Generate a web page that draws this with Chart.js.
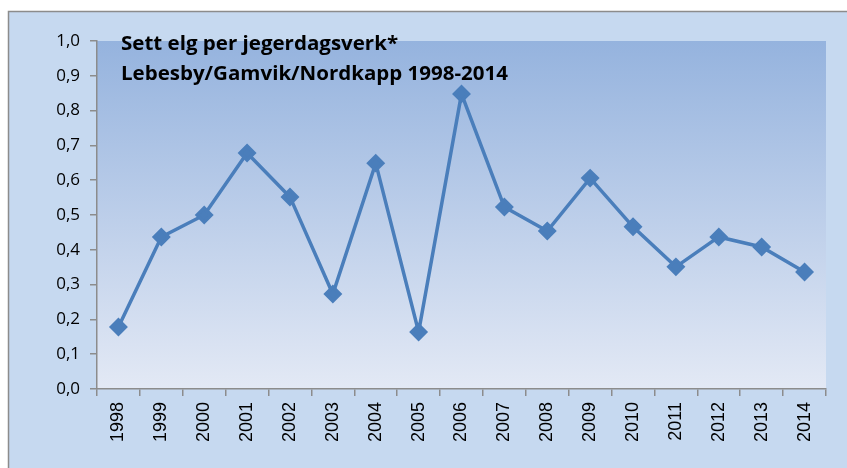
<!DOCTYPE html>
<html>
<head>
<meta charset="utf-8">
<script src="https://cdn.jsdelivr.net/npm/chart.js@4/dist/chart.umd.min.js"></script>
<style>
html,body{margin:0;padding:0;background:#fff;}
#wrap{width:847px;height:468px;position:relative;}
</style>
</head>
<body>
<div id="wrap"><canvas id="c"></canvas></div>
<script>
const years = ['1998','1999','2000','2001','2002','2003','2004','2005','2006','2007','2008','2009','2010','2011','2012','2013','2014'];
const settElg = [0.178,0.437,0.500,0.678,0.552,0.273,0.649,0.164,0.848,0.523,0.454,0.606,0.466,0.351,0.437,0.408,0.336];
const yTicks = [0,0.1,0.2,0.3,0.4,0.5,0.6,0.7,0.8,0.9,1.0];
const titleLines = ['Sett elg per jegerdagsverk*','Lebesby/Gamvik/Nordkapp 1998-2014'];

const bgPlugin = {
  id:'bg',
  beforeDraw(chart){
    const ctx = chart.ctx, w = chart.width, h = chart.height;
    ctx.save();
    ctx.fillStyle = '#ffffff';
    ctx.fillRect(0,0,w,h);
    ctx.fillStyle = '#c6d9f0';
    ctx.fillRect(8,11,w-8,h-11);
    ctx.strokeStyle = '#8c8c8c';
    ctx.lineWidth = 1.5;
    ctx.beginPath();
    ctx.moveTo(8.5,h);ctx.lineTo(8.5,11.5);ctx.lineTo(w,11.5);
    ctx.stroke();
    const a = chart.chartArea;
    const g = ctx.createLinearGradient(0,a.top,0,a.bottom);
    g.addColorStop(0,'#95b3de');
    g.addColorStop(1,'#e3e9f5');
    ctx.fillStyle = g;
    ctx.fillRect(a.left,a.top,a.right-a.left,a.bottom-a.top);
    ctx.restore();
  }
};
const titlePlugin = {
  id:'ttl',
  afterDatasetsDraw(chart){
    const ctx = chart.ctx;
    ctx.save();
    ctx.font = 'bold 19px "Open Sans", "Liberation Sans", sans-serif';
    ctx.fillStyle = '#000';
    ctx.textBaseline = 'alphabetic';
    const w2 = ctx.measureText(titleLines[1]).width;
    const sx = 387 / w2;
    ctx.translate(121,0);
    ctx.scale(sx,1);
    ctx.fillText(titleLines[0],0,50);
    ctx.fillText(titleLines[1],0,80);
    ctx.restore();
  }
};

new Chart(document.getElementById('c'),{
  type:'line',
  data:{labels:years,datasets:[{
    data:settElg,
    borderColor:'#4a7ebb',
    backgroundColor:'#4a7ebb',
    borderWidth:3.5,
    pointStyle:'rectRot',
    pointRadius:7,
    pointHoverRadius:7,
    tension:0,
    fill:false
  }]},
  options:{
    responsive:true,
    maintainAspectRatio:false,
    animation:false,
    devicePixelRatio:1,
    layout:{padding:{left:8,top:41,right:21,bottom:0}},
    plugins:{legend:{display:false},title:{display:false},tooltip:{enabled:false}},
    scales:{
      x:{
        offset:true,
        grid:{offset:true,drawOnChartArea:false,color:'#8c8c8c',tickLength:7,lineWidth:1.5},
        border:{color:'#8c8c8c',width:1.5},
        ticks:{minRotation:90,maxRotation:90,autoSkip:false,color:'#000',padding:6,
          font:{family:'"Liberation Sans", Arial, sans-serif',size:18}},
        afterFit(s){s.height = 79;}
      },
      y:{
        min:0,max:1,
        afterBuildTicks(s){s.ticks = yTicks.map(v=>({value:v}));},
        grid:{drawOnChartArea:false,color:'#8c8c8c',tickLength:7,lineWidth:1.5},
        border:{color:'#8c8c8c',width:1.5},
        ticks:{color:'#000',padding:10,
          font:{family:'"Open Sans", "Liberation Sans", sans-serif',size:17},
          callback:(v)=>Number(v).toFixed(1).replace('.',',')},
        afterFit(s){s.width = 89;}
      }
    }
  },
  plugins:[bgPlugin,titlePlugin]
});
</script>
</body>
</html>
